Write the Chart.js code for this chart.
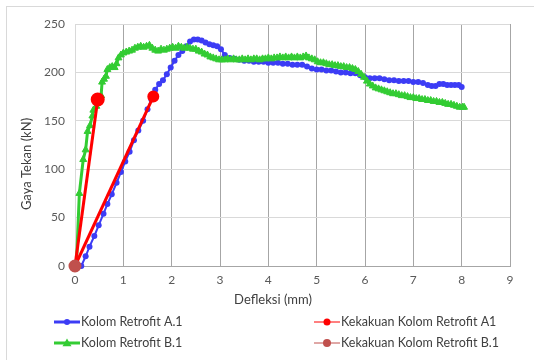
<!DOCTYPE html>
<html>
<head>
<meta charset="utf-8">
<script src="https://cdn.jsdelivr.net/npm/chart.js@4/dist/chart.umd.min.js"></script>
<style>
  body { margin: 0; background: #fff; }
  #wrap { position: relative; width: 534px; height: 360px; overflow: hidden; }
  #frame { position: absolute; left: 6px; top: 6px; width: 560px; height: 400px; border: 1px solid #d9d9d9; }
  canvas { position: absolute; left: 0; top: 0; }
</style>
</head>
<body>
<div id="wrap">
  <div id="frame"></div>
  <canvas id="myChart" width="534" height="360"></canvas>
</div>
<script>
// Kolom Retrofit A.1
const a1X = [0.13,0.22,0.3,0.4,0.49,0.59,0.67,0.76,0.86,0.95,1.04,1.13,1.22,1.31,1.41,1.5,1.58,1.66,1.74,1.82,1.9,1.98,2.06,2.14,2.22,2.3,2.38,2.46,2.54,2.62,2.7,2.78,2.86,2.94,3.02,3.1,3.2,3.3,3.4,3.5,3.6,3.7,3.8,3.9,4.0,4.1,4.2,4.3,4.4,4.5,4.6,4.7,4.8,4.9,5.0,5.1,5.2,5.3,5.4,5.5,5.6,5.7,5.8,5.9,6.0,6.1,6.2,6.3,6.4,6.5,6.6,6.7,6.8,6.9,7.0,7.1,7.2,7.3,7.38,7.46,7.54,7.62,7.7,7.78,7.86,7.94,8.0];
const a1Y = [0,10,20,31,42,54,64,74,86,97,108,118,130,140,150,162,172,182,188,192,198,205,212,218,222,227,232,234,234,233,231,229,228,227,224,218,215,214,213,212,212,211,211,211,210,210,210,209,209,208,208,208,206,204,203,203,202,202,201,200,200,199,199,197,195,194,194,194,193,192,192,191,191,191,190,190,189,187,186,186,188,188,187,187,187,187,185];

// Kolom Retrofit B.1
const b1X = [0,0.03,0.09,0.17,0.22,0.26,0.31,0.36,0.38,0.44,0.5,0.54,0.56,0.6,0.64,0.67,0.72,0.77,0.82,0.86,0.9,0.95,1.0,1.06,1.12,1.18,1.24,1.3,1.36,1.42,1.48,1.54,1.6,1.66,1.72,1.78,1.84,1.9,1.96,2.02,2.08,2.14,2.2,2.26,2.32,2.38,2.44,2.5,2.56,2.62,2.68,2.74,2.8,2.86,2.92,2.98,3.04,3.1,3.16,3.22,3.28,3.34,3.4,3.46,3.52,3.58,3.64,3.7,3.76,3.82,3.88,3.94,4.0,4.06,4.12,4.18,4.24,4.3,4.36,4.42,4.48,4.54,4.6,4.66,4.72,4.78,4.84,4.9,4.96,5.02,5.08,5.14,5.2,5.26,5.32,5.38,5.44,5.5,5.56,5.62,5.68,5.74,5.8,5.86,5.92,5.98,6.04,6.1,6.16,6.22,6.28,6.34,6.4,6.46,6.52,6.58,6.64,6.7,6.76,6.82,6.88,6.94,7.0,7.06,7.12,7.18,7.24,7.3,7.36,7.42,7.48,7.54,7.6,7.66,7.72,7.78,7.84,7.9,7.96,8.02,8.05];
const b1Y = [0,2,75,110,120,139,145,155,161,165,171,176,190,193,196,203,205,206,205,209,215,218,220,221,222,223,225,226,227,226,227,228,225,223,222,224,223,224,225,226,225,227,226,225,226,225,224,224,222,221,219,218,216,215,214,213,213,213,214,213,214,213,213,214,213,214,213,214,214,213,214,214,215,214,215,215,216,215,216,215,216,215,216,215,216,217,215,214,213,211,210,210,209,208,208,207,207,206,206,205,205,204,203,201,198,195,191,188,186,184,183,182,181,180,179,178,178,177,176,176,175,174,174,173,173,172,172,171,171,170,170,169,169,168,167,167,166,165,164,164,164,163];

// Kekakuan (stiffness) lines
const kekA1X = [0, 1.62];
const kekA1Y = [0, 175];
const kekB1X = [0, 0.47];
const kekB1Y = [0, 172];

const xTicksMax = 9;
const yTicksMax = 250;
const seriesNames = ['Kolom Retrofit A.1', 'Kekakuan Kolom Retrofit A1', 'Kolom Retrofit B.1', 'Kekakuan Kolom Retrofit B.1'];
const xTitle = 'Defleksi (mm)';
const yTitle = 'Gaya Tekan (kN)';

const toPts = (xs, ys) => xs.map((x, i) => ({x: x, y: ys[i]}));

const textGray = '#595959';
const titleGray = '#404040';

// axis titles and a two-column legend, placed like the original
const extrasPlugin = {
  id: 'extras',
  afterDraw(chart) {
    const ctx = chart.ctx;
    ctx.save();
    ctx.fillStyle = titleGray;
    ctx.font = '13px Lato';
    ctx.textAlign = 'center';
    ctx.textBaseline = 'middle';
    ctx.fillText(xTitle, 273, 300);
    ctx.translate(27, 164);
    ctx.rotate(-Math.PI / 2);
    ctx.fillText(yTitle, 0, 0);
    ctx.restore();

    const items = [
      {name: seriesNames[0], x: 54, y: 322, color: '#3c3cf5', lw: 3, marker: 'circle', r: 3},
      {name: seriesNames[2], x: 54, y: 343, color: '#33cc33', lw: 3, marker: 'triangle', r: 4.5},
      {name: seriesNames[1], x: 314, y: 322, color: '#ff0000', lw: 1, marker: 'circle', r: 3.5},
      {name: seriesNames[3], x: 314, y: 343, color: '#c0504d', lw: 1, marker: 'circle', r: 4}
    ];
    ctx.save();
    items.forEach(it => {
      ctx.strokeStyle = it.color;
      ctx.fillStyle = it.color;
      ctx.lineWidth = it.lw;
      ctx.beginPath();
      ctx.moveTo(it.x, it.y);
      ctx.lineTo(it.x + 26, it.y);
      ctx.stroke();
      const cx = it.x + 13;
      ctx.beginPath();
      if (it.marker === 'circle') {
        ctx.arc(cx, it.y, it.r, 0, Math.PI * 2);
      } else {
        ctx.moveTo(cx, it.y - it.r);
        ctx.lineTo(cx + it.r, it.y + it.r * 0.7);
        ctx.lineTo(cx - it.r, it.y + it.r * 0.7);
        ctx.closePath();
      }
      ctx.fill();
      ctx.fillStyle = titleGray;
      ctx.font = '12.5px Lato';
      ctx.textBaseline = 'middle';
      ctx.fillText(it.name, it.x + 27, it.y);
    });
    ctx.restore();
  }
};

const data = {
  datasets: [
    {
      label: seriesNames[3],
      data: toPts(kekB1X, kekB1Y),
      borderColor: '#ff0000',
      borderWidth: 3,
      pointRadius: [5, 5.5],
      pointBackgroundColor: ['#c0504d', '#ff0000'],
      pointBorderColor: ['#c0504d', '#ff0000'],
      clip: false,
      order: 0
    },
    {
      label: seriesNames[1],
      data: toPts(kekA1X, kekA1Y),
      borderColor: '#ff0000',
      borderWidth: 3,
      pointRadius: [0, 4.5],
      pointBackgroundColor: '#ff0000',
      pointBorderColor: '#ff0000',
      clip: false,
      order: 1
    },
    {
      label: seriesNames[2],
      data: toPts(b1X, b1Y),
      borderColor: '#33cc33',
      backgroundColor: '#33cc33',
      borderWidth: 3,
      pointStyle: 'triangle',
      pointRadius: 4,
      pointBorderWidth: 1,
      clip: false,
      order: 2
    },
    {
      label: seriesNames[0],
      data: toPts(a1X, a1Y),
      borderColor: '#3c3cf5',
      backgroundColor: '#3c3cf5',
      borderWidth: 2,
      pointRadius: 3,
      pointBorderWidth: 0,
      clip: false,
      order: 3
    }
  ]
};

const config = {
  type: 'scatter',
  data: data,
  options: {
    responsive: false,
    animation: false,
    showLine: true,
    layout: { padding: { left: 16, top: 24, right: 24, bottom: 50 } },
    plugins: { legend: { display: false }, tooltip: { enabled: false } },
    elements: { line: { tension: 0 } },
    scales: {
      x: {
        type: 'linear',
        min: 0,
        max: xTicksMax,
        afterFit: s => { s.height = 44; },
        ticks: { stepSize: 1, color: textGray, font: { family: 'Lato', size: 12 }, padding: 7 },
        grid: { color: c => (c.tick && c.tick.value === 0 ? '#d9d9d9' : '#a6a6a6'), drawTicks: false },
        border: { color: '#a6a6a6' }
      },
      y: {
        min: 0,
        max: yTicksMax,
        afterFit: s => { s.width = 59; },
        ticks: { stepSize: 50, color: textGray, font: { family: 'Lato', size: 12 }, padding: 10 },
        grid: { color: '#d9d9d9', drawTicks: false },
        border: { color: '#d9d9d9' }
      }
    }
  },
  plugins: [extrasPlugin]
};

const myChart = new Chart(document.getElementById('myChart'), config);
</script>
</body>
</html>
